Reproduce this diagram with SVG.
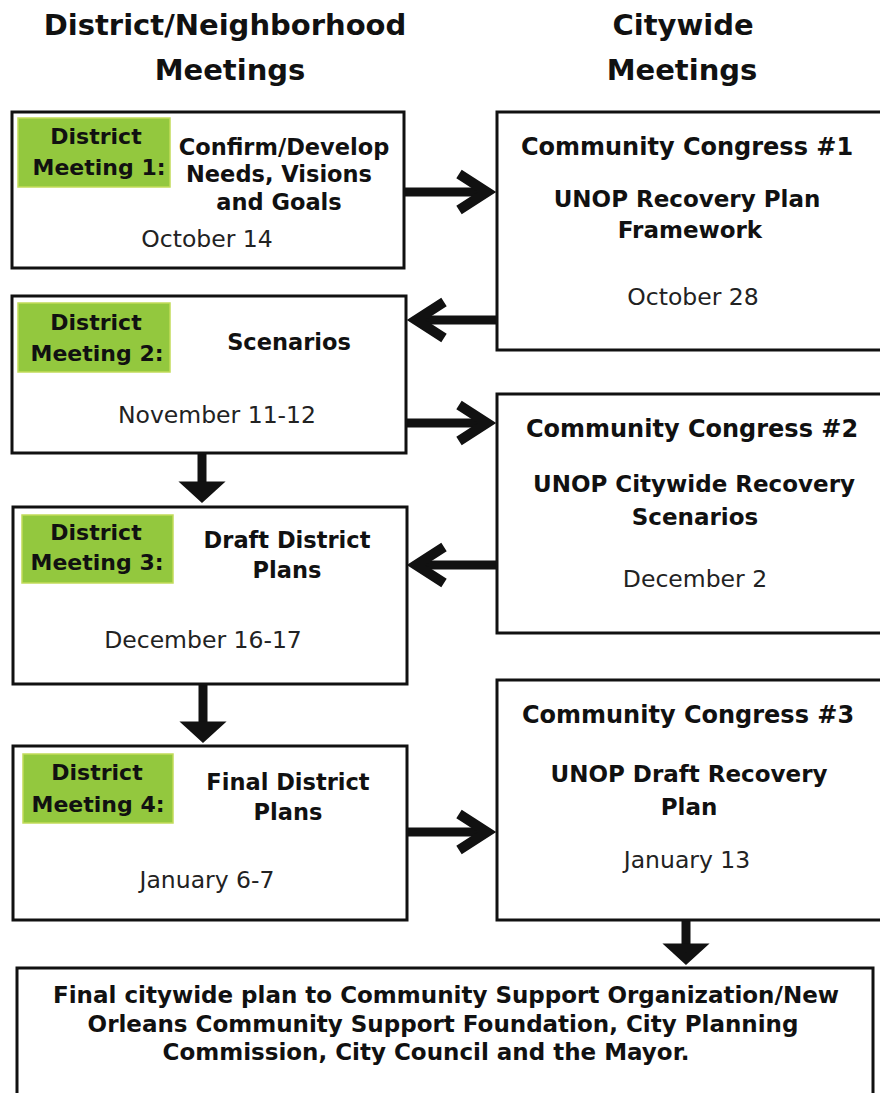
<svg xmlns="http://www.w3.org/2000/svg" width="880" height="1093" viewBox="0 0 880 1093">
<style>
  .box { fill: #ffffff; stroke: #111111; stroke-width: 3; }
  .green { fill: #93c83e; stroke: #c2dc5a; stroke-width: 1.5; }
  text { font-family: "DejaVu Sans", "Liberation Sans", sans-serif; fill: #111111; text-anchor: middle; }
  .head { font-size: 29px; font-weight: bold; }
  .title { font-size: 24px; font-weight: bold; }
  .sub { font-size: 23px; font-weight: bold; }
  .desc { font-size: 22.5px; font-weight: bold; }
  .lbl { font-size: 22px; font-weight: bold; }
  .date { font-size: 23.5px; font-weight: normal; fill: #222222; }
  .final { font-size: 23px; font-weight: bold; }
  .shaft { stroke: #111111; stroke-width: 9; fill: none; }
  .chev { stroke: #111111; stroke-width: 10; fill: none; stroke-linejoin: miter; stroke-miterlimit: 10; }
  .chevd { stroke: #111111; stroke-width: 9; fill: #111111; stroke-linejoin: miter; stroke-miterlimit: 10; }
</style>
<rect x="0" y="0" width="880" height="1093" fill="#ffffff"/>

<g id="headings">
  <text class="head" x="225" y="35">District/Neighborhood</text>
  <text class="head" x="230" y="80">Meetings</text>
  <text class="head" x="683" y="35">Citywide</text>
  <text class="head" x="682" y="80">Meetings</text>
</g>

<g id="connectors">
  <!-- DM1 -> CC1 -->
  <line class="shaft" x1="404" y1="192" x2="486" y2="192"/>
  <path class="chev" d="M459,174 L487,192 L459,210"/>
  <!-- CC1 -> DM2 -->
  <line class="shaft" x1="497" y1="320" x2="417" y2="320"/>
  <path class="chev" d="M444,302 L416,320 L444,338"/>
  <!-- DM2 -> CC2 -->
  <line class="shaft" x1="406" y1="423" x2="486" y2="423"/>
  <path class="chev" d="M459,405 L487,423 L459,441"/>
  <!-- CC2 -> DM3 -->
  <line class="shaft" x1="497" y1="565" x2="417" y2="565"/>
  <path class="chev" d="M444,547 L416,565 L444,583"/>
  <!-- DM4 -> CC3 -->
  <line class="shaft" x1="407" y1="832" x2="486" y2="832"/>
  <path class="chev" d="M459,814 L487,832 L459,850"/>
  <!-- DM2 -> DM3 -->
  <line class="shaft" x1="202" y1="454" x2="202" y2="488"/>
  <path class="chevd" d="M190,486 L202,497 L214,486 Z"/>
  <!-- DM3 -> DM4 -->
  <line class="shaft" x1="203" y1="684" x2="203" y2="728"/>
  <path class="chevd" d="M191,726 L203,737 L215,726 Z"/>
  <!-- CC3 -> Final -->
  <line class="shaft" x1="686" y1="920" x2="686" y2="950"/>
  <path class="chevd" d="M674,948 L686,959 L698,948 Z"/>
</g>

<g id="dm1">
  <rect class="box" x="12" y="112" width="392" height="156"/>
  <rect class="green" x="18" y="118" width="152" height="69"/>
  <text class="lbl" x="96" y="144">District</text>
  <text class="lbl" x="99" y="175">Meeting 1:</text>
  <text class="desc" x="284" y="155">Confirm/Develop</text>
  <text class="desc" x="279" y="182">Needs, Visions</text>
  <text class="desc" x="279" y="210">and Goals</text>
  <text class="date" x="207" y="247">October 14</text>
</g>

<g id="dm2">
  <rect class="box" x="12" y="296" width="394" height="157"/>
  <rect class="green" x="18" y="303" width="152" height="69"/>
  <text class="lbl" x="96" y="330">District</text>
  <text class="lbl" x="97" y="361">Meeting 2:</text>
  <text class="desc" x="289" y="350">Scenarios</text>
  <text class="date" x="217" y="423">November 11-12</text>
</g>

<g id="dm3">
  <rect class="box" x="13" y="507" width="394" height="177"/>
  <rect class="green" x="22" y="515" width="151" height="68"/>
  <text class="lbl" x="96" y="540">District</text>
  <text class="lbl" x="97" y="570">Meeting 3:</text>
  <text class="desc" x="287" y="548">Draft District</text>
  <text class="desc" x="287" y="578">Plans</text>
  <text class="date" x="203" y="648">December 16-17</text>
</g>

<g id="dm4">
  <rect class="box" x="13" y="746" width="394" height="174"/>
  <rect class="green" x="23" y="754" width="150" height="69"/>
  <text class="lbl" x="97" y="780">District</text>
  <text class="lbl" x="98" y="812">Meeting 4:</text>
  <text class="desc" x="288" y="790">Final District</text>
  <text class="desc" x="288" y="820">Plans</text>
  <text class="date" x="207" y="888">January 6-7</text>
</g>

<g id="cc1">
  <rect class="box" x="497" y="112" width="390" height="238"/>
  <text class="title" x="687" y="155">Community Congress #1</text>
  <text class="sub" x="687" y="207">UNOP Recovery Plan</text>
  <text class="sub" x="690" y="238">Framework</text>
  <text class="date" x="693" y="305">October 28</text>
</g>

<g id="cc2">
  <rect class="box" x="497" y="394" width="390" height="239"/>
  <text class="title" x="692" y="437">Community Congress #2</text>
  <text class="sub" x="694" y="492">UNOP Citywide Recovery</text>
  <text class="sub" x="695" y="525">Scenarios</text>
  <text class="date" x="695" y="587">December 2</text>
</g>

<g id="cc3">
  <rect class="box" x="497" y="680" width="390" height="240"/>
  <text class="title" x="688" y="723">Community Congress #3</text>
  <text class="sub" x="689" y="782">UNOP Draft Recovery</text>
  <text class="sub" x="689" y="815">Plan</text>
  <text class="date" x="687" y="868">January 13</text>
</g>

<g id="final">
  <rect class="box" x="17" y="968" width="856" height="140"/>
  <text class="final" x="446" y="1003">Final citywide plan to Community Support Organization/New</text>
  <text class="final" x="443" y="1032">Orleans Community Support Foundation, City Planning</text>
  <text class="final" x="426" y="1060">Commission, City Council and the Mayor.</text>
</g>
</svg>
